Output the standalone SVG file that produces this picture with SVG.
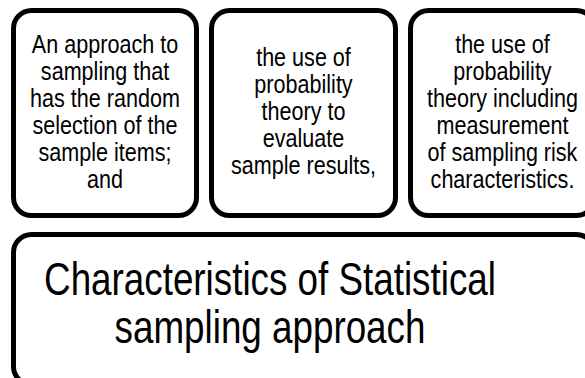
<svg xmlns="http://www.w3.org/2000/svg" width="585" height="378" viewBox="0 0 585 378">
<style>
.box{fill:#fff;stroke:#000;stroke-width:5}
.s{font-family:"Liberation Sans",Arial,sans-serif;font-size:26px;fill:#000;text-anchor:middle}
.b{font-family:"Liberation Sans",Arial,sans-serif;font-size:46px;fill:#000;text-anchor:middle}
</style>
<rect width="585" height="378" fill="#fff"/>
<g id="connectors"></g>
<g id="node1">
<rect class="box" x="13.5" y="10.5" width="183" height="205" rx="18"/>
<g transform="translate(105,0) scale(0.83,1)">
<text class="s" x="0" y="53.5">An approach to</text>
<text class="s" x="0" y="80.5">sampling that</text>
<text class="s" x="0" y="107.5">has the random</text>
<text class="s" x="0" y="134.5">selection of the</text>
<text class="s" x="0" y="161.5">sample items;</text>
<text class="s" x="0" y="188.5">and</text>
</g>
</g>
<g id="node2">
<rect class="box" x="211.5" y="10.5" width="184" height="205" rx="18"/>
<g transform="translate(303.5,0) scale(0.83,1)">
<text class="s" x="0" y="66">the use of</text>
<text class="s" x="0" y="93">probability</text>
<text class="s" x="0" y="120">theory to</text>
<text class="s" x="0" y="147">evaluate</text>
<text class="s" x="0" y="174">sample results,</text>
</g>
</g>
<g id="node3">
<rect class="box" x="410.5" y="10.5" width="184" height="205" rx="18"/>
<g transform="translate(502.5,0) scale(0.83,1)">
<text class="s" x="0" y="53.5">the use of</text>
<text class="s" x="0" y="80.5">probability</text>
<text class="s" x="0" y="107.5">theory including</text>
<text class="s" x="0" y="134.5">measurement</text>
<text class="s" x="0" y="161.5">of sampling risk</text>
<text class="s" x="0" y="188.5">characteristics.</text>
</g>
</g>
<g id="node4">
<rect class="box" x="13.5" y="234.5" width="581" height="150" rx="18"/>
<g transform="translate(270,0) scale(0.8,1)">
<text class="b" x="0" y="295">Characteristics of Statistical</text>
<text class="b" x="0" y="343.5">sampling approach</text>
</g>
</g>
</svg>
